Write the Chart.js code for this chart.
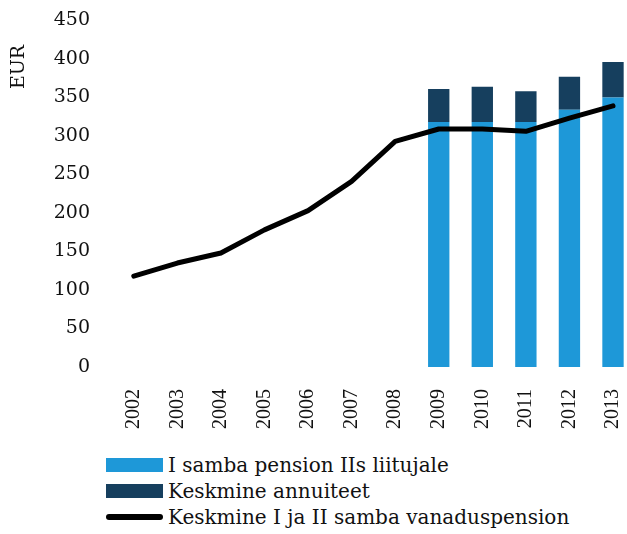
<!DOCTYPE html>
<html>
<head>
<meta charset="utf-8">
<script src="https://cdn.jsdelivr.net/npm/chart.js@4.4.1/dist/chart.umd.min.js"></script>
<style>
    html, body { margin: 0; padding: 0; background: #fff; }
    #wrap { position: relative; width: 627px; height: 534px; overflow: hidden; }
    #chart { position: absolute; left: 0; top: -5px; }
    #legend { position: absolute; left: 106px; top: 452px; font-family: "DejaVu Serif", serif; font-size: 20px; color: #111; }
    .legend-item { display: flex; align-items: center; height: 26px; }
    .legend-color { width: 57px; height: 14px; margin-right: 5px; }
    .legend-line { width: 57px; height: 6px; border-radius: 3px; margin-right: 5px; }
</style>
</head>
<body>
<div id="wrap">
    <canvas id="chart" width="651" height="445"></canvas>
    <div id="legend"></div>
</div>
<script>
// Chart data
const years = ['2002', '2003', '2004', '2005', '2006', '2007', '2008', '2009', '2010', '2011', '2012', '2013'];
const firstPillar = [null, null, null, null, null, null, null, 318, 318, 318, 334, 350];
const annuity = [null, null, null, null, null, null, null, 43, 46, 40, 43, 46];
const avgPension = [118, 135, 148, 178, 203, 241, 293, 309, 309, 306, 323, 339];

const seriesNames = ['I samba pension IIs liitujale', 'Keskmine annuiteet', 'Keskmine I ja II samba vanaduspension'];
const colors = {
    light: '#1E98D8',
    dark: '#163F5E',
    line: '#000000'
};

// vertical "EUR" label sits near the top, not centred on the axis
const eurLabel = {
    id: 'eurLabel',
    afterDraw(chart) {
        const ctx = chart.ctx;
        ctx.save();
        ctx.translate(19, 72);
        ctx.rotate(-Math.PI / 2);
        ctx.font = '19px "DejaVu Serif", serif';
        ctx.fillStyle = '#111';
        ctx.textAlign = 'center';
        ctx.textBaseline = 'middle';
        ctx.fillText('EUR', 0, 0);
        ctx.restore();
    }
};

document.addEventListener('DOMContentLoaded', () => {
    createChart();
    createLegend();
});

function createChart() {
    const ctx = document.getElementById('chart');
    new Chart(ctx, {
        type: 'bar',
        data: {
            labels: years,
            datasets: [
                {
                    type: 'line',
                    label: seriesNames[2],
                    data: avgPension,
                    borderColor: colors.line,
                    borderWidth: 5,
                    borderCapStyle: 'round',
                    borderJoinStyle: 'round',
                    pointRadius: 0,
                    tension: 0,
                    stack: 'line',
                    order: 0
                },
                {
                    label: seriesNames[0],
                    data: firstPillar,
                    backgroundColor: colors.light,
                    stack: 'bars',
                    order: 1,
                    barPercentage: 0.49,
                    categoryPercentage: 1
                },
                {
                    label: seriesNames[1],
                    data: annuity,
                    backgroundColor: colors.dark,
                    stack: 'bars',
                    order: 1,
                    barPercentage: 0.49,
                    categoryPercentage: 1
                }
            ]
        },
        options: {
            responsive: false,
            animation: false,
            layout: { padding: 0 },
            plugins: {
                legend: { display: false },
                tooltip: { enabled: false }
            },
            scales: {
                x: {
                    stacked: true,
                    grid: { display: false },
                    border: { display: false },
                    ticks: {
                        minRotation: 90,
                        maxRotation: 90,
                        padding: 14,
                        color: '#111',
                        font: { family: '"Liberation Serif", serif', size: 20 }
                    },
                    afterFit: (scale) => { scale.height = 73; }
                },
                y: {
                    stacked: true,
                    min: 0,
                    max: 450,
                    grid: { display: false },
                    border: { display: false },
                    ticks: {
                        stepSize: 50,
                        padding: 14,
                        color: '#111',
                        font: { family: '"DejaVu Serif", serif', size: 19 }
                    },
                    afterFit: (scale) => { scale.width = 112; }
                }
            }
        },
        plugins: [eurLabel]
    });
}

function createLegend() {
    const legendEl = document.getElementById('legend');
    const swatches = [
        `<div class="legend-color" style="background: ${colors.light}"></div>`,
        `<div class="legend-color" style="background: ${colors.dark}"></div>`,
        `<div class="legend-line" style="background: ${colors.line}"></div>`
    ];
    legendEl.innerHTML = seriesNames.map((label, i) => `
        <div class="legend-item">
            ${swatches[i]}
            <span>${label}</span>
        </div>
    `).join('');
}
</script>
</body>
</html>
